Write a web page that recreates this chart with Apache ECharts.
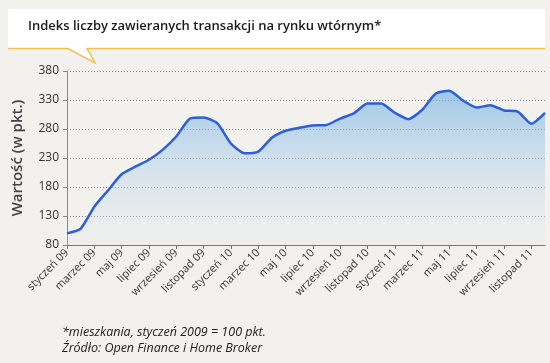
<!DOCTYPE html>
<html><head><meta charset="utf-8">
<script src="https://cdn.jsdelivr.net/npm/echarts@6/dist/echarts.min.js"></script>
<style>html,body{margin:0;padding:0;background:#f3f1ee;}#c{width:550px;height:363px;}</style>
</head><body><div id="c"></div>
<script>
const months = ['styczeń','luty','marzec','kwiecień','maj','czerwiec','lipiec','sierpień','wrzesień','październik','listopad','grudzień'];
const years = ['09','10','11'];
const categories = [];
years.forEach(y => months.forEach(m => categories.push(m + ' ' + y)));
const values = [100,108,146,174,202,215,227,244,267,298,300,290,
                255,238,241,265,277,282,286,287,298,307,324,324,
                308,297,313,341,346,329,317,321,312,310,289,308];
const yTicks = [80,130,180,230,280,330,380];
const titleText = 'Indeks liczby zawieranych transakcji na rynku wtórnym*';
const yName = 'Wartość (w pkt.)';
const footer1 = '*mieszkania, styczeń 2009 = 100 pkt.';
const footer2 = 'Źródło: Open Finance i Home Broker';

const chart = echarts.init(document.getElementById('c'));
chart.setOption({
  backgroundColor: '#f3f1ee',
  animation: false,
  graphic: [
    {type:'rect', shape:{x:8,y:9,width:537,height:39}, style:{fill:'#ffffff'}, z:1},
    {type:'polygon', shape:{points:[[68,48],[95,63],[87,48]]}, style:{fill:'#ffffff'}, z:1},
    {type:'polyline', shape:{points:[[8,48.5],[68,48.5],[95,63],[87,48.5],[545,48.5]]}, style:{stroke:'#f3c04e', lineWidth:1.5, fill:null}, z:2},
    {type:'text', left:28, top:20, style:{text:titleText, font:'600 13px "Open Sans", sans-serif', fill:'#1a1a1a'}, z:3},
    {type:'text', left:62, top:326, style:{text:footer1, font:'italic 12.5px "Open Sans", sans-serif', fill:'#222'}, z:3},
    {type:'text', left:62, top:342, style:{text:footer2, font:'italic 12.5px "Open Sans", sans-serif', fill:'#222'}, z:3}
  ],
  grid: {left:67, right:5, top:71, bottom:118, containLabel:false},
  xAxis: {
    type:'category', data:categories, boundaryGap:false,
    axisLine:{lineStyle:{color:'#777', width:1}},
    axisTick:{show:true, interval:1, length:4, lineStyle:{color:'#777'}},
    axisLabel:{interval:1, rotate:45, color:'#333', fontSize:11, fontFamily:'"Open Sans", sans-serif', margin:6},
    splitLine:{show:false}
  },
  yAxis: {
    type:'value', min:80, max:380, interval:50,
    name: yName, nameLocation:'middle', nameGap:42, nameRotate:90,
    nameTextStyle:{color:'#444', fontSize:15, fontWeight:'600', fontFamily:'"Open Sans", sans-serif'},
    axisLine:{show:true, lineStyle:{color:'#888'}},
    axisTick:{show:true, length:4, lineStyle:{color:'#888'}},
    axisLabel:{color:'#333', fontSize:12, fontFamily:'"Open Sans", sans-serif', margin:8},
    splitLine:{lineStyle:{color:'#888', type:[1,2], width:1}}
  },
  series: [{
    type:'line', data:values, smooth:0.2, symbol:'none',
    lineStyle:{color:'#2b5ed8', width:2.5},
    areaStyle:{color:new echarts.graphic.LinearGradient(0,0,0,1,[
      {offset:0, color:'rgba(110,175,225,0.9)'},
      {offset:0.5, color:'rgba(170,205,235,0.6)'},
      {offset:1, color:'rgba(225,230,235,0.3)'}
    ]), origin:'start'}
  }]
});
</script></body></html>
